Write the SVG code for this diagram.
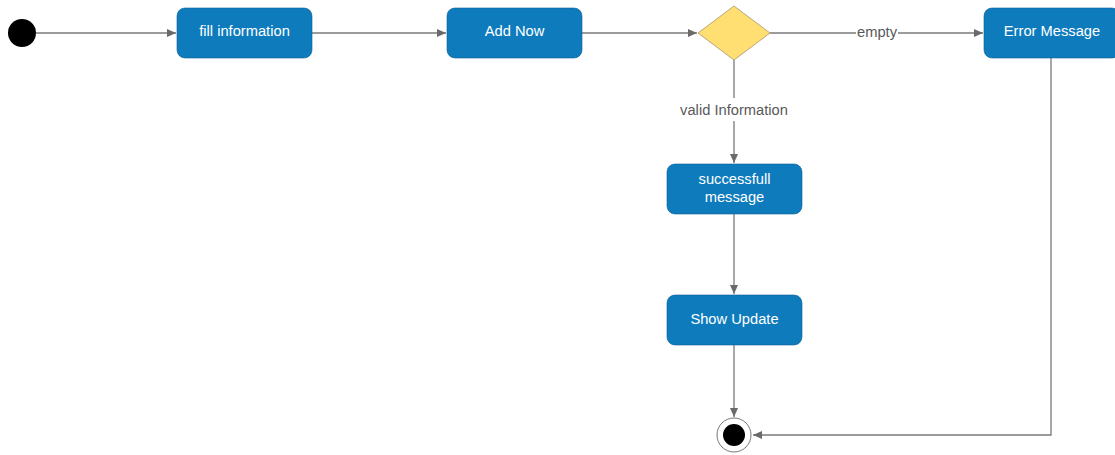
<svg xmlns="http://www.w3.org/2000/svg" width="1115" height="455" viewBox="0 0 1115 455">
<style>
.node rect{fill:#0e7bbd;stroke:#0a5f93;stroke-width:0.6}
.node text{fill:#fff;font-family:"Liberation Sans",Arial,sans-serif;font-size:14.7px;text-anchor:middle}
.conn{fill:none;stroke:#7a7a7a;stroke-width:1.3}
.lbl{fill:#595959;font-family:"Liberation Sans",Arial,sans-serif;font-size:14.7px;text-anchor:middle}
</style>
<defs>
<marker id="ah" markerWidth="10" markerHeight="8" refX="9" refY="4" orient="auto" markerUnits="userSpaceOnUse">
<path d="M0,0 L9,4 L0,8 z" fill="#6a6a6a"/>
</marker>
</defs>
<rect width="1115" height="455" fill="#fff"/>
<g id="connectors">
<line class="conn" x1="36" y1="33" x2="176" y2="33" marker-end="url(#ah)"/>
<line class="conn" x1="312" y1="33" x2="446" y2="33" marker-end="url(#ah)"/>
<line class="conn" x1="582" y1="33" x2="697" y2="33" marker-end="url(#ah)"/>
<line class="conn" x1="770" y1="33" x2="856" y2="33"/>
<line class="conn" x1="898" y1="33" x2="983" y2="33" marker-end="url(#ah)"/>
<line class="conn" x1="734" y1="60" x2="734" y2="98"/>
<line class="conn" x1="734" y1="121" x2="734" y2="163" marker-end="url(#ah)"/>
<line class="conn" x1="734" y1="214" x2="734" y2="294" marker-end="url(#ah)"/>
<line class="conn" x1="734" y1="345" x2="734" y2="417" marker-end="url(#ah)"/>
<polyline class="conn" points="1051,58 1051,435 753,435" marker-end="url(#ah)"/>
<text class="lbl" x="877" y="37">empty</text>
<text class="lbl" x="734" y="115">valid Information</text>
</g>
<g id="start"><circle cx="22" cy="33" r="14" fill="#000"/></g>
<g id="fill-information" class="node"><rect x="177" y="8" width="135" height="50" rx="8"/><text x="244.5" y="36">fill information</text></g>
<g id="add-now" class="node"><rect x="447" y="8" width="135" height="50" rx="8"/><text x="514.5" y="36">Add Now</text></g>
<g id="decision"><polygon points="734,6 770,33 734,60 698,33" fill="#ffdf71" stroke="#a8946a" stroke-width="0.8" stroke-linejoin="round"/></g>
<g id="error-message" class="node"><rect x="984" y="8" width="136" height="50" rx="8"/><text x="1052" y="36">Error Message</text></g>
<g id="successfull-message" class="node"><rect x="667" y="164" width="135" height="50" rx="8"/><text x="734.5" y="184">successfull</text><text x="734.5" y="202">message</text></g>
<g id="show-update" class="node"><rect x="667" y="295" width="135" height="50" rx="8"/><text x="734.5" y="324">Show Update</text></g>
<g id="end"><circle cx="734" cy="435" r="17" fill="#fff" stroke="#555" stroke-width="0.8"/><circle cx="734" cy="435" r="11" fill="#000"/></g>
</svg>
